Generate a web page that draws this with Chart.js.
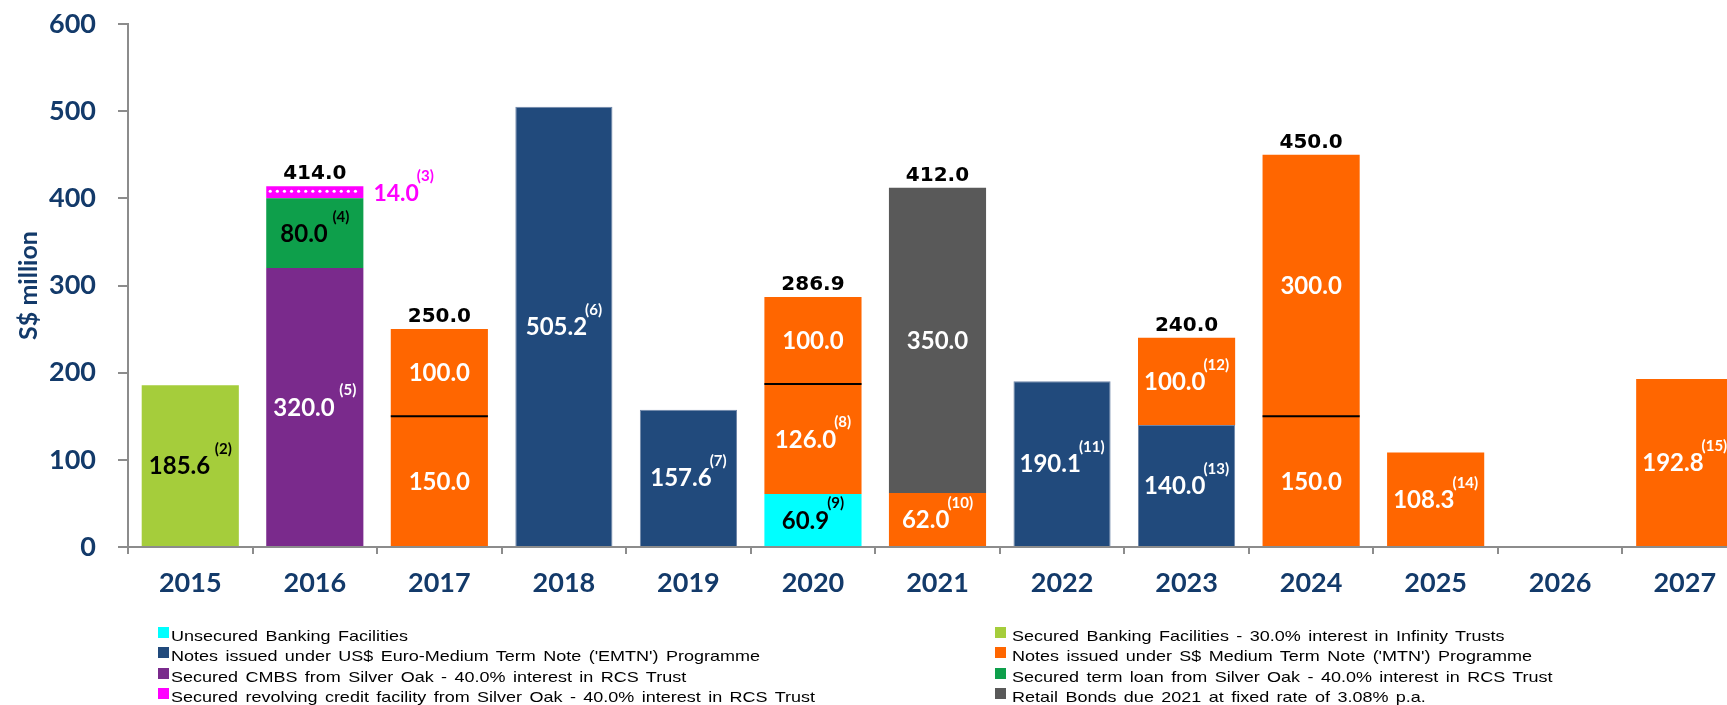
<!DOCTYPE html>
<html>
<head>
<meta charset="utf-8">
<script src="https://cdn.jsdelivr.net/npm/chart.js@4.4.0/dist/chart.umd.min.js"></script>
<style>
  body { margin: 0; background: #fff; width: 1727px; height: 705px; overflow: hidden; }
  #wrap { position: relative; width: 1747px; height: 705px; }
  #chart { position: absolute; left: 0; top: 0; }
  .leg { position: absolute; height: 15px; white-space: nowrap; }
  .leg .box { position: absolute; left: 0; top: 0; width: 11px; height: 11px; }
  .leg .txt { position: absolute; top: 1px; font: 15px "Liberation Sans", Arial, sans-serif; line-height: 15px;
              color: #000; transform: scaleX(1.2); transform-origin: left top; word-spacing: 2px; }
</style>
</head>
<body>
<div id="wrap">
  <canvas id="chart" width="1747" height="705"></canvas>
</div>
<script>
var years = ['2015', '2016', '2017', '2018', '2019', '2020', '2021', '2022', '2023', '2024', '2025', '2026', '2027'];
var yTicks = [0, 100, 200, 300, 400, 500, 600];

// S$ million, one value per year
var securedBank = [185.6, 0, 0, 0, 0, 0, 0, 0, 0, 0, 0, 0, 0];
var unsecured   = [0, 0, 0, 0, 0, 60.9, 0, 0, 0, 0, 0, 0, 0];
var emtn        = [0, 0, 0, 505.2, 157.6, 0, 0, 190.1, 140.0, 0, 0, 0, 0];
var cmbs        = [0, 320.0, 0, 0, 0, 0, 0, 0, 0, 0, 0, 0, 0];
var termLoan    = [0, 80.0, 0, 0, 0, 0, 0, 0, 0, 0, 0, 0, 0];
var revolving   = [0, 14.0, 0, 0, 0, 0, 0, 0, 0, 0, 0, 0, 0];
var mtnFirst    = [0, 0, 150.0, 0, 0, 126.0, 62.0, 0, 100.0, 150.0, 108.3, 0, 192.8];
var mtnSecond   = [0, 0, 100.0, 0, 0, 100.0, 0, 0, 0, 300.0, 0, 0, 0];
var retail      = [0, 0, 0, 0, 0, 0, 350.0, 0, 0, 0, 0, 0, 0];

// footnote markers next to the values
var securedBankNotes = [' (2)', '', '', '', '', '', '', '', '', '', '', '', ''];
var unsecuredNotes   = ['', '', '', '', '', '(9)', '', '', '', '', '', '', ''];
var emtnNotes        = ['', '', '', '(6)', '(7)', '', '', '(11)', '(13)', '', '', '', ''];
var cmbsNotes        = ['', ' (5)', '', '', '', '', '', '', '', '', '', '', ''];
var termLoanNotes    = ['', ' (4)', '', '', '', '', '', '', '', '', '', '', ''];
var revolvingNotes   = ['', '(3)', '', '', '', '', '', '', '', '', '', '', ''];
var mtnFirstNotes    = ['', '', '', '', '', '(8)', '(10)', '', '(12)', '', '(14)', '', '(15)'];

var navy = '#133a6a';

var segLabels = {
  id: 'segLabels',
  afterDatasetsDraw: function (chart) {
    var ctx = chart.ctx;
    var sets = chart.data.datasets;
    ctx.save();
    sets.forEach(function (ds, i) {
      var meta = chart.getDatasetMeta(i);
      meta.data.forEach(function (bar, j) {
        var v = ds.data[j];
        if (!v) return;
        var left = bar.x - bar.width / 2, right = bar.x + bar.width / 2;
        var midY = (bar.y + bar.base) / 2;

        if (ds.dotted) {
          ctx.fillStyle = '#fff';
          for (var dx = left + 4; dx < right - 1; dx += 7.1) {
            ctx.beginPath();
            ctx.arc(dx, midY - 1, 1.6, 0, Math.PI * 2);
            ctx.fill();
          }
        }
        if (ds.divider && sets[i + 1].data[j]) {
          ctx.strokeStyle = '#000';
          ctx.lineWidth = 2;
          ctx.beginPath();
          ctx.moveTo(left, bar.y);
          ctx.lineTo(right, bar.y);
          ctx.stroke();
        }

        var main = v.toFixed(1);
        var note = ds.notes ? ds.notes[j] : '';
        var size = ds.labelSize || 24;
        var supFont = 'bold 15px Lato, sans-serif';
        ctx.font = 'bold ' + size + 'px Lato, sans-serif';
        var mw = ctx.measureText(main).width;
        ctx.font = supFont;
        var gap = note.charAt(0) === ' ' ? 1 : -2;
        var nw = note ? ctx.measureText(note).width + gap : 0;
        var x0 = ds.labelOutside ? right + 10 : bar.x - (mw + nw) / 2;
        var cap = size * 0.72;
        ctx.fillStyle = ds.labelColor;
        ctx.textAlign = 'left';
        ctx.textBaseline = 'alphabetic';
        ctx.font = 'bold ' + size + 'px Lato, sans-serif';
        ctx.fillText(main, x0, midY + cap / 2);
        if (note) {
          ctx.font = supFont;
          ctx.fillText(note, x0 + mw + gap, midY - cap / 2 - 3);
        }
      });
    });

    // totals over stacked years
    years.forEach(function (y, j) {
      var total = 0, count = 0, top = Infinity, cx = 0;
      sets.forEach(function (ds, i) {
        if (!ds.data[j]) return;
        var bar = chart.getDatasetMeta(i).data[j];
        total += ds.data[j];
        count++;
        top = Math.min(top, bar.y);
        cx = bar.x;
      });
      if (count < 2) return;
      ctx.font = 'bold 20px "DejaVu Sans", sans-serif';
      ctx.fillStyle = '#000';
      ctx.textAlign = 'center';
      ctx.textBaseline = 'alphabetic';
      ctx.fillText(total.toFixed(1), cx, top - 7);
    });
    ctx.restore();
  }
};

var chart = new Chart(document.getElementById('chart'), {
  type: 'bar',
  data: {
    labels: years,
    datasets: [
      { label: 'Secured Banking Facilities - 30.0% interest in Infinity Trusts', data: securedBank, notes: securedBankNotes,
        backgroundColor: '#a5cd3b', labelColor: '#000', legendCol: 1, legendRow: 0 },
      { label: 'Unsecured Banking Facilities', data: unsecured, notes: unsecuredNotes,
        backgroundColor: '#00ffff', labelColor: '#000', legendCol: 0, legendRow: 0 },
      { label: "Notes issued under US$ Euro-Medium Term Note ('EMTN') Programme", data: emtn, notes: emtnNotes,
        backgroundColor: '#214a7c', borderColor: '#6f86a8', borderWidth: 1, labelColor: '#fff', legendCol: 0, legendRow: 1 },
      { label: 'Secured CMBS from Silver Oak - 40.0% interest in RCS Trust', data: cmbs, notes: cmbsNotes,
        backgroundColor: '#7a2a8c', labelColor: '#fff', legendCol: 0, legendRow: 2 },
      { label: 'Secured term loan from Silver Oak - 40.0% interest in RCS Trust', data: termLoan, notes: termLoanNotes,
        backgroundColor: '#0e9f4b', labelColor: '#000', legendCol: 1, legendRow: 2 },
      { label: 'Secured revolving credit facility from Silver Oak - 40.0% interest in RCS Trust', data: revolving, notes: revolvingNotes,
        backgroundColor: '#ff00ff', labelColor: '#ff00ff', labelSize: 23, labelOutside: true, dotted: true, legendCol: 0, legendRow: 3 },
      { label: "Notes issued under S$ Medium Term Note ('MTN') Programme", data: mtnFirst, notes: mtnFirstNotes,
        backgroundColor: '#ff6600', labelColor: '#fff', divider: true, legendCol: 1, legendRow: 1 },
      { label: "Notes issued under S$ Medium Term Note ('MTN') Programme", data: mtnSecond,
        backgroundColor: '#ff6600', labelColor: '#fff' },
      { label: 'Retail Bonds due 2021 at fixed rate of 3.08% p.a.', data: retail,
        backgroundColor: '#595959', labelColor: '#fff', legendCol: 1, legendRow: 3 }
    ]
  },
  options: {
    responsive: false,
    animation: false,
    barPercentage: 0.78,
    categoryPercentage: 1,
    layout: { padding: { top: 24, right: 0, bottom: 0, left: 0 } },
    plugins: { legend: { display: false }, tooltip: { enabled: false } },
    scales: {
      x: {
        stacked: true,
        afterFit: function (scale) { scale.height = 158; },
        border: { color: '#8c8c8c', width: 2 },
        grid: { offset: true, drawOnChartArea: false, tickLength: 7, color: '#8c8c8c', lineWidth: 2 },
        ticks: { color: navy, padding: 13, font: { family: 'Lato', weight: 'bold', size: 27 } }
      },
      y: {
        stacked: true,
        min: 0,
        max: 600,
        afterFit: function (scale) {
          scale.width = 128;
          scale.paddingTop = 0;
          scale.paddingBottom = 0;
        },
        afterBuildTicks: function (scale) { scale.ticks = yTicks.map(function (v) { return { value: v }; }); },
        border: { color: '#8c8c8c', width: 2 },
        grid: { drawOnChartArea: false, tickLength: 10, color: '#8c8c8c', lineWidth: 2 },
        ticks: { color: navy, padding: 22, font: { family: 'Lato', weight: 'bold', size: 27 } },
        title: { display: true, text: 'S$ million', color: navy, padding: { top: 14, bottom: 0 },
                 font: { family: 'Lato', weight: 'bold', size: 25 } }
      }
    }
  },
  plugins: [segLabels]
});

// two-column legend under the chart
var wrap = document.getElementById('wrap');
var colX = [158, 995];
chart.data.datasets.forEach(function (ds) {
  if (ds.legendCol === undefined) return;
  var item = document.createElement('div');
  item.className = 'leg';
  item.style.left = colX[ds.legendCol] + 'px';
  item.style.top = (627 + ds.legendRow * 20.3) + 'px';
  var box = document.createElement('span');
  box.className = 'box';
  box.style.background = ds.backgroundColor;
  var txt = document.createElement('span');
  txt.className = 'txt';
  txt.style.left = (ds.legendCol ? 17 : 13) + 'px';
  txt.textContent = ds.label;
  item.appendChild(box);
  item.appendChild(txt);
  wrap.appendChild(item);
});
</script>
</body>
</html>
